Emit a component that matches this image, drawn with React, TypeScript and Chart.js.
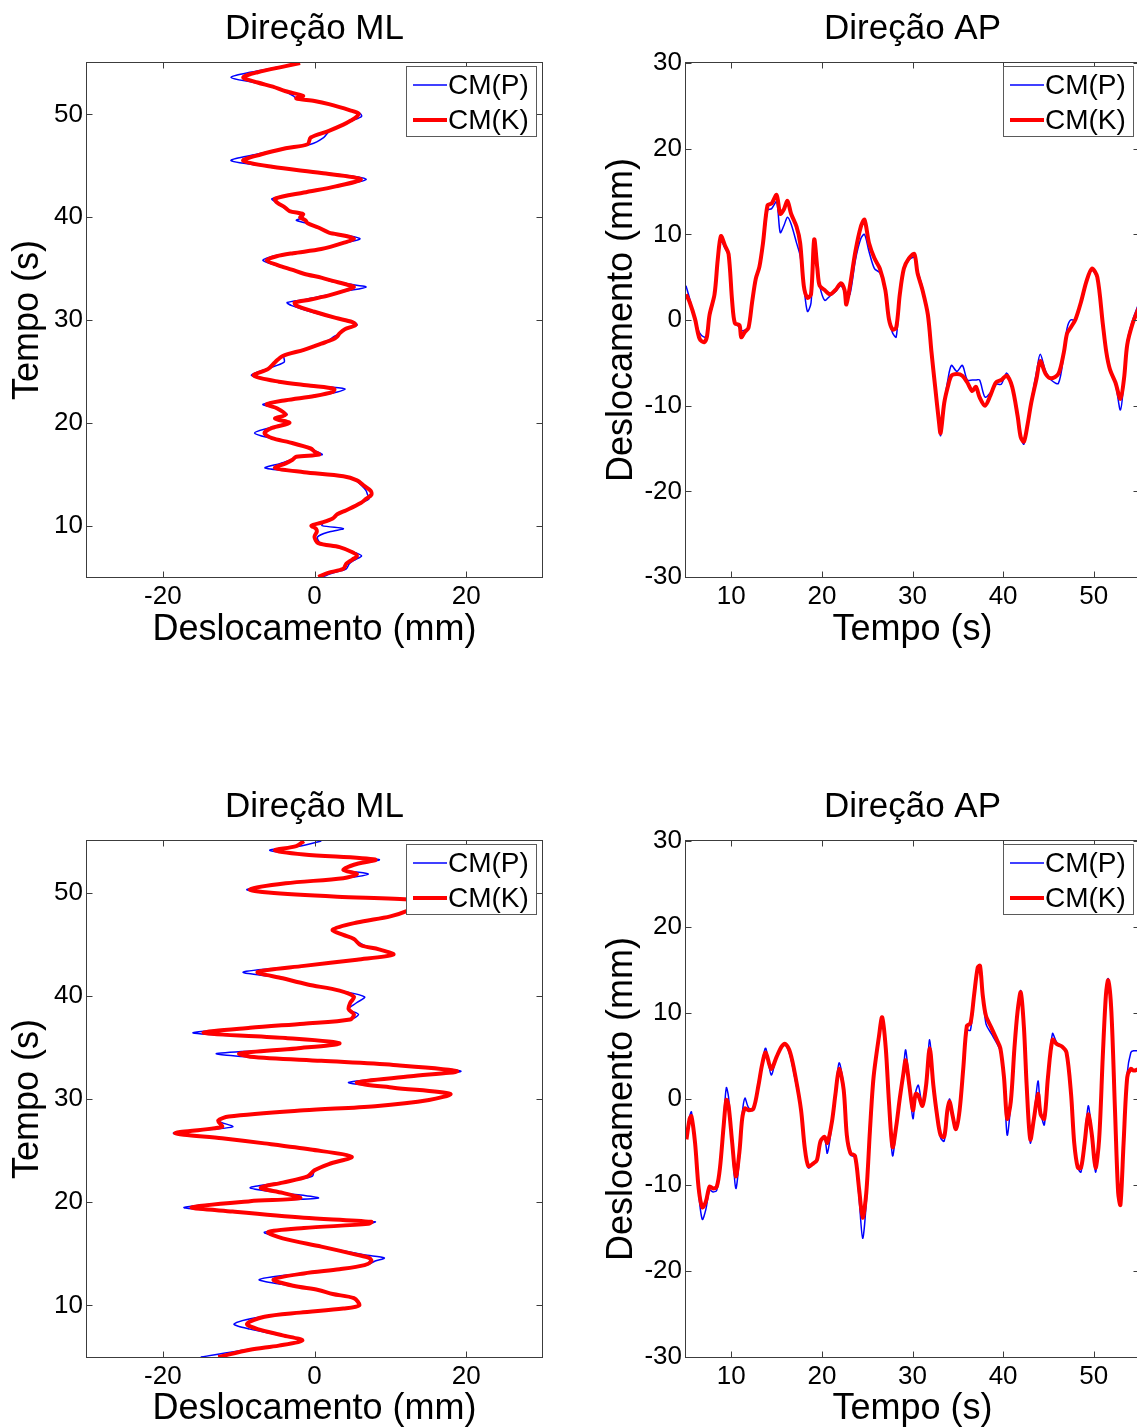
import React, { useEffect, useRef } from "react";
import { Chart, registerables } from "chart.js";

Chart.register(...registerables);

const FONT_FAMILY = "'Liberation Sans', Arial, Helvetica, sans-serif";

// ---------------- DATA ----------------
// Top row, ML direction (time on vertical axis)
const mlTopTime = [
  5.0, 5.4, 5.8, 6.3, 6.7, 7.05, 7.4, 7.9, 8.3, 8.9,
  9.4, 9.7, 10.0, 10.3, 10.7, 11.1, 11.5, 12.2, 12.6, 13.0,
  13.4, 13.9, 14.4, 14.8, 15.2, 15.6, 16.05, 16.4, 16.7, 16.9,
  17.2, 17.5, 18.1, 18.5, 19.0, 19.5, 20.0, 20.4, 20.8, 21.4,
  21.8, 22.2, 22.6, 23.0, 23.3, 23.6, 24.0, 24.6, 25.25, 25.9,
  26.5, 27.1, 27.7, 28.1, 28.4, 28.7, 29.1, 29.5, 29.8, 30.2,
  30.8, 31.4, 31.7, 32.0, 32.4, 32.8, 33.2, 33.5, 33.8, 34.1,
  34.5, 34.9, 35.3, 35.8, 36.2, 36.5, 36.9, 37.5, 37.9, 38.2,
  38.5, 39.0, 39.4, 39.7, 40.0, 40.3, 40.6, 41.0, 41.4, 41.8,
  42.4, 43.0, 43.7, 44.3, 44.9, 45.5, 46.1, 46.7, 47.1, 47.75,
  48.4, 49.0, 49.4, 49.8, 50.1, 50.4, 51.0, 51.3, 51.55, 51.8,
  52.25, 52.7, 53.1, 53.6, 54.1, 54.7, 55.0,
];
const mlTopK = [
  0.5, 1.8, 3.8, 4.2, 5.0, 5.6, 5.0, 3.3, 0.5, 0.0,
  0.3, 0.2, -0.4, 1.0, 2.4, 3.0, 4.2, 6.1, 6.8, 7.5,
  7.4, 6.5, 5.6, 3.8, -1.4, -5.2, -3.8, -2.9, -2.4, 0.6,
  0.0, -0.5, -3.3, -5.6, -6.6, -5.6, -3.3, -5.2, -3.8, -4.9,
  -6.3, -3.8, 0.0, 2.4, 2.6, -0.5, -4.7, -8.0, -6.1, -5.2,
  -4.2, -1.4, 0.9, 2.4, 3.0, 3.3, 4.0, 5.4, 5.0, 2.8,
  0.0, -2.4, -2.6, -0.5, 1.9, 3.8, 5.2, 4.0, 2.4, 1.0,
  -1.4, -3.0, -4.7, -6.3, -5.0, -2.8, 0.9, 3.8, 5.2, 4.0,
  1.9, 0.5, -0.9, -1.2, -1.9, -1.5, -3.3, -4.0, -4.9, -5.2,
  -1.4, 2.8, 6.1, 0.9, -5.6, -9.4, -7.1, -3.8, -0.9, -0.5,
  1.9, 3.8, 4.8, 5.6, 5.8, 4.7, 1.9, 0.0, -2.4, -1.5,
  -3.8, -5.5, -7.5, -9.4, -7.5, -3.8, -1.9,
];
const mlTopP = [
  1.0, 2.5, 4.2, 4.6, 5.4, 6.2, 5.3, 3.3, 0.8, 0.4,
  2.0, 3.8, 1.0, 1.2, 2.4, 3.0, 4.2, 6.1, 7.2, 7.0,
  6.8, 6.2, 5.4, 3.8, -1.4, -6.5, -4.5, -3.0, -2.2, 1.0,
  0.3, -0.5, -3.3, -5.8, -7.9, -6.0, -3.8, -5.0, -3.6, -5.0,
  -6.8, -4.0, 0.0, 3.0, 4.0, 0.0, -4.5, -8.3, -6.3, -4.0,
  -4.0, -1.2, 1.0, 2.0, 2.6, 3.3, 4.0, 5.6, 5.2, 2.6,
  -0.5, -3.0, -3.6, -1.2, 1.5, 4.0, 6.8, 4.5, 2.0, 1.0,
  -1.4, -3.2, -5.0, -6.8, -5.5, -3.0, 0.9, 4.0, 6.0, 4.5,
  1.9, 0.5, -0.9, -2.4, -1.5, -2.0, -3.3, -4.2, -5.0, -5.6,
  -1.6, 3.0, 6.8, 1.5, -5.6, -11.0, -7.8, -3.8, -0.5, 1.2,
  2.0, 3.8, 5.0, 6.2, 6.0, 4.7, 1.9, 0.0, -2.4, -2.8,
  -4.0, -5.8, -8.0, -11.0, -8.5, -4.0, -2.0,
];

// Top row, AP direction
const apTopTime = [
  5.0, 5.4, 6.0, 6.5, 7.0, 7.3, 7.6, 8.15, 8.5, 8.85,
  9.3, 9.7, 10.1, 10.4, 10.9, 11.1, 11.5, 11.9, 12.3, 12.7,
  13.1, 13.5, 14.0, 14.45, 15.0, 15.4, 15.8, 16.2, 16.6, 17.2,
  17.6, 18.0, 18.4, 18.8, 19.15, 19.5, 19.75, 20.3, 20.9, 21.5,
  22.1, 22.5, 22.7, 23.1, 23.7, 24.3, 24.7, 25.2, 25.8, 26.4,
  27.0, 27.4, 27.8, 28.2, 28.6, 29.05, 29.6, 30.2, 30.55, 31.1,
  31.7, 32.1, 32.5, 32.9, 33.1, 33.5, 33.9, 34.3, 34.9, 35.5,
  36.05, 36.6, 37.0, 37.4, 38.0, 38.6, 39.2, 39.8, 40.4, 41.0,
  41.6, 41.95, 42.3, 42.7, 43.1, 43.7, 44.1, 44.7, 45.3, 46.1,
  46.7, 47.05, 47.45, 48.0, 48.6, 49.2, 49.8, 50.4, 51.0, 51.4,
  51.8, 52.4, 52.95, 53.35, 53.7, 54.3, 55.0,
];
const apTopK = [
  3.0, 2.1, 0.1, -2.2, -2.6, -2.0, 0.6, 3.0, 7.0, 9.8,
  8.7, 7.7, 2.1, -0.4, -0.6, -2.0, -1.4, -0.9, 2.1, 4.8,
  6.2, 9.0, 13.4, 13.6, 14.6, 12.4, 12.9, 13.9, 12.4, 10.9,
  9.0, 4.0, 2.6, 3.0, 9.4, 6.0, 4.0, 3.5, 3.0, 3.5,
  4.3, 3.5, 1.8, 4.0, 8.0, 10.9, 11.7, 9.0, 7.2, 6.0,
  3.5, 0.1, -1.1, -0.9, 3.0, 6.0, 7.2, 7.7, 5.5, 3.5,
  0.6, -3.8, -7.8, -11.7, -13.2, -9.7, -7.8, -6.5, -6.3, -6.5,
  -7.3, -8.3, -7.8, -9.0, -10.0, -8.8, -7.3, -7.0, -6.5, -7.8,
  -11.2, -13.7, -14.2, -12.2, -9.7, -6.8, -4.8, -6.3, -6.8, -6.3,
  -3.8, -1.6, -0.9, 0.1, 2.1, 4.5, 6.0, 5.0, -0.4, -3.8,
  -5.8, -7.3, -9.2, -6.8, -2.9, -0.4, 1.5,
];
const apTopP = [
  4.0, 2.5, 0.0, -1.5, -2.0, -1.8, 0.3, 2.8, 6.5, 9.2,
  8.4, 7.5, 2.0, -0.4, -0.8, -1.2, -1.2, -0.9, 2.1, 4.6,
  6.0, 8.5, 12.8, 13.0, 13.8, 10.2, 11.0, 12.0, 11.2, 9.0,
  7.5, 4.0, 1.0, 2.0, 8.8, 6.0, 4.0, 2.3, 2.8, 3.3,
  4.0, 3.3, 2.8, 3.0, 7.0, 9.5, 10.0, 8.0, 6.0, 5.5,
  3.5, 0.0, -1.5, -2.0, 2.8, 5.8, 7.0, 7.3, 5.8, 3.8,
  0.6, -3.8, -7.8, -11.7, -13.5, -9.7, -7.0, -5.3, -6.0, -5.3,
  -7.0, -7.0, -7.0, -7.0, -9.0, -8.5, -7.5, -7.5, -6.2, -7.8,
  -11.2, -13.7, -14.5, -12.2, -9.5, -6.0, -4.0, -6.0, -7.0, -7.4,
  -4.0, -1.0, 0.0, 0.0, 2.0, 4.5, 5.8, 4.8, -0.4, -3.8,
  -6.0, -7.5, -10.5, -7.0, -2.5, 0.0, 2.0,
];

// Bottom row, ML direction
const mlBotTime = [
  5.0, 5.7, 6.1, 6.6, 7.1, 7.7, 8.2, 8.9, 9.3, 9.7,
  10.0, 10.7, 11.1, 11.5, 11.9, 12.5, 13.1, 13.5, 13.9, 14.3,
  14.6, 14.9, 15.7, 16.5, 17.1, 17.5, 17.9, 18.1, 18.5, 19.1,
  19.5, 20.1, 20.4, 20.9, 21.4, 21.9, 22.5, 23.1, 23.7, 24.4,
  25.1, 25.7, 26.2, 26.7, 27.3, 27.9, 28.3, 28.9, 29.3, 29.9,
  30.5, 31.1, 31.6, 32.2, 32.7, 33.3, 33.7, 34.1, 34.4, 34.9,
  35.4, 35.9, 36.4, 36.9, 37.3, 37.7, 38.2, 38.7, 39.3, 39.9,
  40.5, 41.1, 41.7, 42.3, 42.9, 43.5, 44.0, 44.5, 44.9, 45.5,
  45.9, 46.4, 47.1, 47.7, 48.3, 48.9, 49.3, 49.6, 50.0, 50.3,
  50.9, 51.4, 51.8, 52.2, 52.7, 53.2, 53.7, 54.1, 54.5, 55.0,
];
const mlBotK = [
  -12.7, -8.5, -4.7, -1.6, -4.2, -7.5, -8.9, -6.6, -1.9, 3.8,
  5.9, 5.2, 2.4, 0.5, -2.8, -5.4, -1.4, 3.3, 6.6, 7.5,
  7.2, 5.6, 0.9, -4.2, -6.1, -1.4, 7.1, 7.5, -1.4, -10.8,
  -16.2, -8.5, -1.9, -4.2, -7.1, -4.2, -0.9, 0.0, 1.9, 4.9,
  -0.5, -6.6, -12.2, -18.4, -12.2, -12.7, -11.3, -1.4, 8.0, 15.1,
  17.9, 10.4, 5.6, 12.7, 18.8, 10.4, 0.9, -8.5, -9.9, -2.4,
  3.3, -3.8, -14.6, -8.5, -1.4, 4.7, 5.2, 4.5, 4.7, 5.2,
  3.3, -0.9, -4.2, -7.5, -1.4, 5.6, 10.4, 8.5, 6.1, 5.2,
  3.8, 2.4, 5.6, 10.0, 12.5, 14.0, 13.0, 3.0, -6.1, -8.5,
  -3.8, 3.8, 5.6, 3.8, 5.2, 8.0, -1.4, -5.2, -2.4, -1.4,
];
const mlBotP = [
  -15.0, -9.0, -4.7, -1.8, -4.5, -8.5, -10.6, -7.0, -1.9, 3.8,
  6.0, 5.0, 2.4, 0.5, -3.0, -7.3, -1.8, 3.3, 6.8, 8.0,
  9.2, 6.5, 0.9, -4.2, -6.6, -1.4, 7.1, 8.0, -1.4, -11.5,
  -17.2, -8.5, 0.5, -4.2, -8.5, -4.5, -0.3, 0.0, 1.9, 4.9,
  -0.5, -6.6, -12.2, -18.6, -10.8, -12.7, -11.3, -1.4, 8.0, 15.1,
  18.0, 10.4, 4.5, 12.7, 19.3, 10.4, 0.9, -9.0, -12.9, -2.4,
  3.3, -3.8, -16.0, -8.5, -1.4, 4.7, 5.8, 4.5, 5.5, 6.6,
  3.3, -0.9, -4.2, -9.4, -1.4, 5.6, 10.4, 8.5, 6.5, 5.2,
  3.8, 2.4, 5.6, 10.0, 12.5, 14.0, 13.0, 3.0, -6.5, -8.9,
  -3.8, 3.8, 7.1, 4.0, 5.2, 8.5, -1.4, -5.9, -2.0, 0.9,
];

// Bottom row, AP direction
const apBotTime = [
  5.05, 5.4, 5.6, 6.0, 6.4, 6.8, 7.2, 7.6, 8.0, 8.4,
  8.75, 9.15, 9.45, 9.7, 10.1, 10.5, 10.9, 11.2, 11.5, 11.9,
  12.45, 13.0, 13.4, 13.8, 14.4, 15.0, 15.55, 15.95, 16.5, 17.1,
  17.7, 18.1, 18.5, 19.05, 19.45, 19.85, 20.3, 20.6, 21.1, 21.5,
  21.9, 22.4, 22.75, 23.15, 23.65, 24.1, 24.5, 24.9, 25.3, 25.7,
  26.3, 26.65, 27.05, 27.4, 27.8, 28.2, 28.6, 29.0, 29.25, 29.65,
  30.05, 30.35, 30.65, 31.1, 31.5, 31.9, 32.3, 32.7, 33.1, 33.5,
  33.85, 34.1, 34.4, 34.8, 35.2, 35.6, 36.0, 36.4, 36.8, 37.2,
  37.45, 37.75, 38.1, 38.7, 39.3, 39.7, 40.1, 40.45, 40.85, 41.25,
  41.6, 41.95, 42.3, 42.6, 43.0, 43.4, 43.85, 44.15, 44.55, 44.95,
  45.45, 45.9, 46.5, 47.0, 47.5, 47.85, 48.25, 48.6, 49.0, 49.4,
  49.8, 50.2, 50.6, 51.0, 51.35, 51.6, 51.95, 52.35, 52.7, 52.95,
  53.3, 53.7, 54.1, 54.4, 55.0,
];
const apBotK = [
  -4.7, -2.3, -2.0, -5.1, -10.4, -12.6, -11.9, -10.2, -10.4, -10.2,
  -8.0, -3.2, -0.1, -0.8, -5.1, -9.0, -6.1, -2.3, -1.1, -1.3,
  -1.1, 1.6, 4.0, 5.4, 3.5, 4.9, 6.1, 6.4, 5.4, 2.5,
  -1.3, -5.6, -7.8, -7.5, -7.1, -4.9, -4.4, -5.1, -2.7, 0.6,
  3.5, 1.1, -4.2, -6.3, -6.6, -10.4, -13.8, -10.9, -3.7, 2.5,
  7.3, 9.5, 5.9, -0.3, -5.6, -3.2, 0.1, 3.0, 4.5, 1.6,
  -1.3, 0.6, 0.4, -0.8, 1.6, 5.9, 1.6, -1.8, -4.2, -4.4,
  -1.3, -0.3, -1.8, -3.5, -1.3, 3.5, 8.5, 8.8, 12.1, 15.3,
  15.5, 12.1, 9.7, 8.3, 6.9, 5.9, 2.5, -2.3, -0.3, 5.9,
  10.2, 12.4, 8.3, 1.6, -4.7, -2.3, 0.6, -1.8, -2.3, 2.5,
  6.9, 6.4, 6.1, 5.4, 0.6, -5.1, -8.0, -8.0, -5.1, -1.8,
  -4.2, -8.0, -4.7, 4.9, 12.1, 13.8, 10.2, -1.3, -10.9, -12.3,
  -5.1, 2.5, 3.5, 3.3, 3.5,
];
const apBotP = [
  -4.2, -2.0, -1.5, -5.3, -11.0, -14.0, -12.8, -10.6, -10.8, -10.6,
  -8.0, -2.5, 1.3, 0.2, -5.5, -10.4, -6.8, -1.8, 0.1, -1.0,
  -1.3, 1.6, 4.2, 5.9, 2.8, 4.9, 6.0, 6.3, 5.0, 2.0,
  -1.3, -5.6, -8.0, -7.5, -7.1, -5.0, -4.6, -6.3, -3.0, 0.8,
  4.2, 1.5, -4.4, -6.5, -6.8, -11.5, -16.2, -12.0, -4.0, 2.5,
  7.3, 9.3, 5.5, -1.0, -6.6, -3.5, 0.0, 3.5, 5.7, 1.6,
  -2.3, 0.8, 1.6, -0.8, 1.8, 6.9, 1.6, -2.0, -4.5, -4.9,
  -1.3, 0.0, -2.0, -3.6, -1.3, 3.5, 8.0, 8.0, 12.0, 15.0,
  15.0, 12.5, 8.8, 7.6, 6.5, 5.5, 2.0, -4.2, -0.5, 5.9,
  10.2, 12.6, 8.3, 1.6, -5.1, -2.3, 2.1, -1.5, -3.0, 2.5,
  7.6, 6.6, 6.1, 5.4, 0.6, -5.1, -8.0, -8.5, -5.1, -0.8,
  -4.2, -8.5, -4.7, 4.9, 12.1, 14.0, 10.2, -1.3, -10.9, -12.0,
  -5.1, 3.0, 5.4, 5.6, 5.6,
];

const mlXTicks = [-20, 0, 20];
const mlYTicks = [10, 20, 30, 40, 50];
const apXTicks = [10, 20, 30, 40, 50];
const apYTicks = [-30, -20, -10, 0, 10, 20, 30];
const seriesLabels = ["CM(P)", "CM(K)"];
const titleML = "Direção ML";
const titleAP = "Direção AP";
const labelDesloc = "Deslocamento (mm)";
const labelTempo = "Tempo (s)";

// ---------------- RENDERING ----------------
type PanelSpec = {
  cx: number; cy: number; cw: number; ch: number;
  L: number; T: number; R: number; B: number;
  title: string; xLabel: string; yLabel: string;
  xMin: number; xMax: number; yMin: number; yMax: number;
  xTicks: number[]; yTicks: number[];
  time: number[]; valP: number[]; valK: number[];
  vertical: boolean;
  titleY: number; xLabelY: number; yLabelX: number;
};

const TITLE_SIZE = 35;
const TICK_SIZE = 26;
const LABEL_SIZE = 36;
const LEGEND_SIZE = 28;

const matlabFrame = {
  id: "matlabFrame",
  afterDatasetsDraw(chart: any) {
    const { ctx, chartArea: a } = chart;
    const xs = chart.scales.x;
    const ys = chart.scales.y;
    const L = Math.round(a.left) - 0.5;
    const R = Math.round(a.right) + 0.5;
    const T = Math.round(a.top) - 0.5;
    const B = Math.round(a.bottom) + 0.5;
    ctx.save();
    ctx.strokeStyle = "#3c3c3c";
    ctx.lineWidth = 1;
    ctx.strokeRect(L, T, R - L, B - T);
    const tl = 6;
    ctx.beginPath();
    xs.ticks.forEach((t: any) => {
      const px = Math.round(xs.getPixelForValue(t.value)) + 0.5;
      ctx.moveTo(px, B); ctx.lineTo(px, B - tl);
      ctx.moveTo(px, T); ctx.lineTo(px, T + tl);
    });
    ys.ticks.forEach((t: any) => {
      const py = Math.round(ys.getPixelForValue(t.value)) + 0.5;
      ctx.moveTo(L, py); ctx.lineTo(L + tl, py);
      ctx.moveTo(R, py); ctx.lineTo(R - tl, py);
    });
    ctx.stroke();

    // legend box (MATLAB "NorthEast" style)
    const bw = 131;
    const bh = 71;
    const bx = Math.round(a.right) - 136;
    const by = Math.round(a.top) + 3;
    ctx.fillStyle = "#ffffff";
    ctx.fillRect(bx, by, bw, bh);
    ctx.strokeStyle = "#5a5a5a";
    ctx.lineWidth = 1;
    ctx.strokeRect(bx + 0.5, by + 0.5, bw - 1, bh - 1);
    ctx.font = `${LEGEND_SIZE}px ${FONT_FAMILY}`;
    ctx.textBaseline = "middle";
    ctx.textAlign = "left";
    chart.data.datasets.forEach((ds: any, i: number) => {
      const y = by + 19 + i * 35;
      ctx.strokeStyle = ds.borderColor;
      ctx.lineWidth = ds.borderWidth;
      ctx.beginPath();
      ctx.moveTo(bx + 7, y);
      ctx.lineTo(bx + 41, y);
      ctx.stroke();
      ctx.fillStyle = "#000000";
      ctx.fillText(ds.label, bx + 42, y + 1);
    });
    ctx.restore();
  },
};

function Panel({ s }: { s: PanelSpec }) {
  const ref = useRef<HTMLCanvasElement | null>(null);
  useEffect(() => {
    if (!ref.current) return;
    const yAxisW = s.L - s.cx;
    const topH = s.T - s.cy;
    const rightPad = s.cx + s.cw - s.R;
    const xAxisH = s.cy + s.ch - s.B;
    const titleMid = s.titleY - s.cy;
    const toPts = (vals: number[]) =>
      s.time.map((t, i) => (s.vertical ? { x: vals[i], y: t } : { x: t, y: vals[i] }));

    const chart = new Chart(ref.current, {
      type: "scatter",
      data: {
        datasets: [
          {
            label: seriesLabels[0],
            data: toPts(s.valP),
            showLine: true,
            borderColor: "#0000ff",
            backgroundColor: "#0000ff",
            borderWidth: 1.5,
            pointRadius: 0,
            tension: 0.3,
            order: 1,
            clip: 0,
          },
          {
            label: seriesLabels[1],
            data: toPts(s.valK),
            showLine: true,
            borderColor: "#ff0000",
            backgroundColor: "#ff0000",
            borderWidth: 4,
            pointRadius: 0,
            tension: 0.3,
            order: 0,
            clip: 0,
          },
        ],
      } as any,
      options: {
        animation: false,
        responsive: false,
        maintainAspectRatio: false,
        events: [],
        layout: { padding: { left: 0, top: 0, right: rightPad, bottom: 0 } },
        plugins: {
          legend: { display: false },
          tooltip: { enabled: false },
          title: {
            display: true,
            text: s.title,
            fullSize: false,
            color: "#000000",
            font: { family: FONT_FAMILY, size: TITLE_SIZE, weight: "normal", lineHeight: 1 },
            padding: { top: titleMid - TITLE_SIZE / 2, bottom: topH - titleMid - TITLE_SIZE / 2 },
          },
        },
        scales: {
          x: {
            type: "linear",
            position: "bottom",
            min: s.xMin,
            max: s.xMax,
            afterBuildTicks: (sc: any) => {
              sc.ticks = s.xTicks.map((v) => ({ value: v }));
            },
            afterFit: (sc: any) => {
              sc.height = xAxisH;
            },
            grid: { display: false, drawTicks: false },
            border: { display: false },
            ticks: {
              autoSkip: false,
              maxRotation: 0,
              padding: 7,
              color: "#000000",
              font: { family: FONT_FAMILY, size: TICK_SIZE, lineHeight: 1 },
              callback: (v: any) => String(v),
            },
            title: {
              display: true,
              text: s.xLabel,
              color: "#000000",
              font: { family: FONT_FAMILY, size: LABEL_SIZE, lineHeight: 1 },
              padding: { top: 0, bottom: s.ch - (s.xLabelY - s.cy) - LABEL_SIZE / 2 },
            },
          },
          y: {
            type: "linear",
            position: "left",
            min: s.yMin,
            max: s.yMax,
            afterBuildTicks: (sc: any) => {
              sc.ticks = s.yTicks.map((v) => ({ value: v }));
            },
            afterFit: (sc: any) => {
              sc.width = yAxisW;
            },
            grid: { display: false, drawTicks: false },
            border: { display: false },
            ticks: {
              autoSkip: false,
              padding: 4,
              color: "#000000",
              font: { family: FONT_FAMILY, size: TICK_SIZE, lineHeight: 1 },
              callback: (v: any) => String(v),
            },
            title: {
              display: true,
              text: s.yLabel,
              color: "#000000",
              font: { family: FONT_FAMILY, size: LABEL_SIZE, lineHeight: 1 },
              padding: { top: s.yLabelX - s.cx - LABEL_SIZE / 2, bottom: 0 },
            },
          },
        },
      } as any,
      plugins: [matlabFrame as any],
    });
    return () => chart.destroy();
  }, [s]);

  return (
    <canvas
      ref={ref}
      width={s.cw}
      height={s.ch}
      style={{ position: "absolute", left: s.cx, top: s.cy, width: s.cw, height: s.ch, display: "block" }}
    />
  );
}

const panels: PanelSpec[] = [
  {
    cx: 0, cy: 0, cw: 570, ch: 700, L: 87, T: 63, R: 542, B: 577,
    title: titleML, xLabel: labelDesloc, yLabel: labelTempo,
    xMin: -30, xMax: 30, yMin: 5, yMax: 55, xTicks: mlXTicks, yTicks: mlYTicks,
    time: mlTopTime, valP: mlTopP, valK: mlTopK, vertical: true,
    titleY: 29, xLabelY: 630, yLabelX: 28,
  },
  {
    cx: 570, cy: 0, cw: 590, ch: 700, L: 686, T: 63, R: 1139, B: 577,
    title: titleAP, xLabel: labelTempo, yLabel: labelDesloc,
    xMin: 5, xMax: 55, yMin: -30, yMax: 30, xTicks: apXTicks, yTicks: apYTicks,
    time: apTopTime, valP: apTopP, valK: apTopK, vertical: false,
    titleY: 29, xLabelY: 630, yLabelX: 622,
  },
  {
    cx: 0, cy: 720, cw: 570, ch: 707, L: 87, T: 841, R: 542, B: 1357,
    title: titleML, xLabel: labelDesloc, yLabel: labelTempo,
    xMin: -30, xMax: 30, yMin: 5, yMax: 55, xTicks: mlXTicks, yTicks: mlYTicks,
    time: mlBotTime, valP: mlBotP, valK: mlBotK, vertical: true,
    titleY: 807, xLabelY: 1409, yLabelX: 28,
  },
  {
    cx: 570, cy: 720, cw: 590, ch: 707, L: 686, T: 841, R: 1139, B: 1357,
    title: titleAP, xLabel: labelTempo, yLabel: labelDesloc,
    xMin: 5, xMax: 55, yMin: -30, yMax: 30, xTicks: apXTicks, yTicks: apYTicks,
    time: apBotTime, valP: apBotP, valK: apBotK, vertical: false,
    titleY: 807, xLabelY: 1409, yLabelX: 622,
  },
];

export default function App() {
  return (
    <div
      style={{
        position: "absolute",
        left: 0,
        top: 0,
        width: 1137,
        height: 1427,
        overflow: "hidden",
        background: "#ffffff",
      }}
    >
      {panels.map((p, i) => (
        <Panel key={i} s={p} />
      ))}
    </div>
  );
}
